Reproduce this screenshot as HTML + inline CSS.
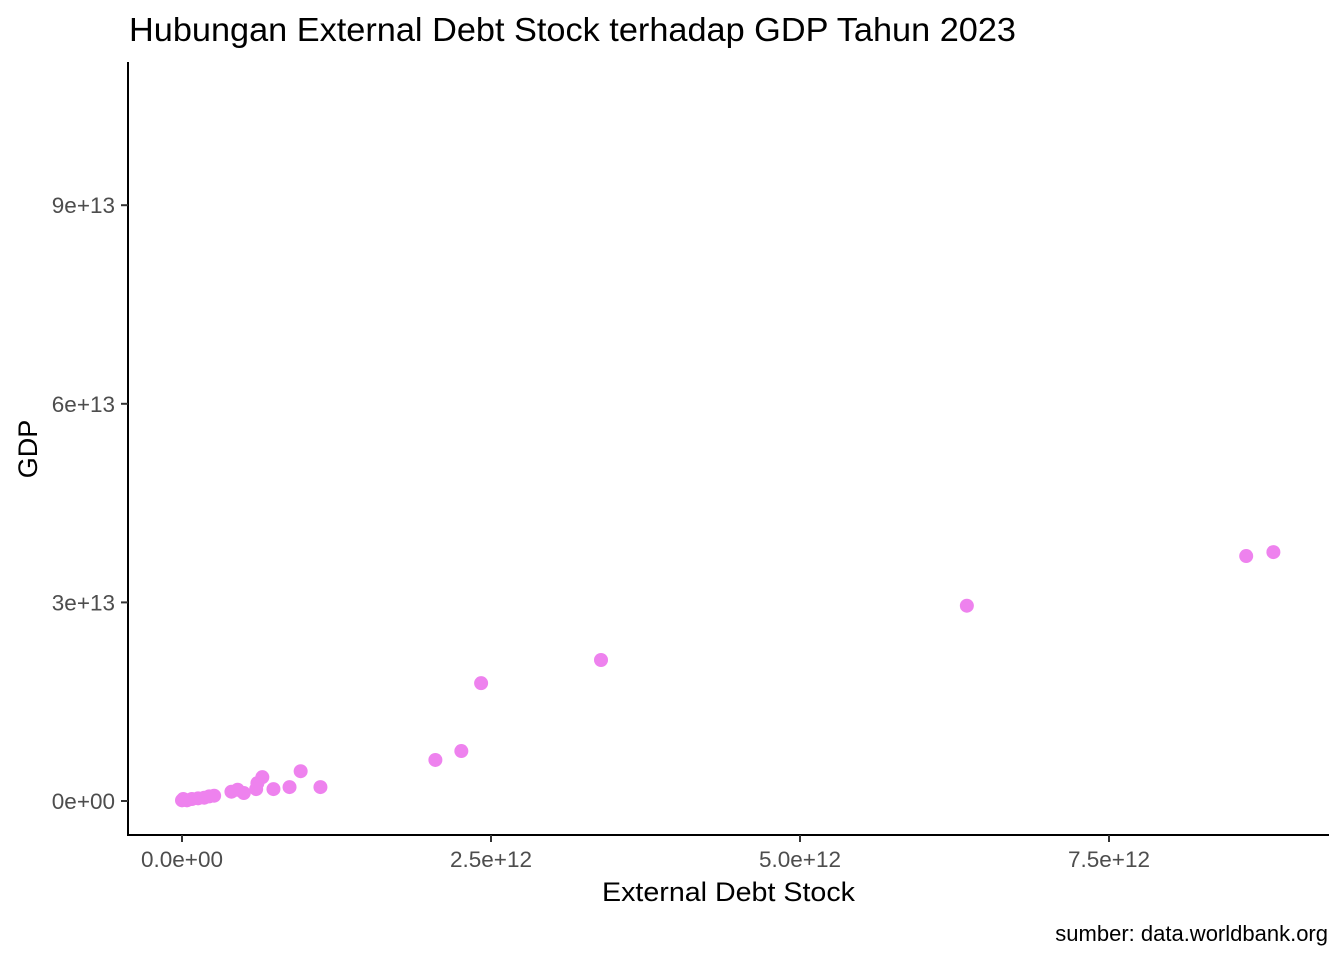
<!DOCTYPE html>
<html><head><meta charset="utf-8"><style>
body{margin:0;background:#fff;font-family:"Liberation Sans",sans-serif;}
</style></head><body>
<svg id="chart" width="1344" height="960">
<text x="129" y="41" font-size="33" textLength="887" lengthAdjust="spacingAndGlyphs" fill="#000">Hubungan External Debt Stock terhadap GDP Tahun 2023</text>
<line x1="128" y1="62" x2="128" y2="835" stroke="#000" stroke-width="2"/>
<line x1="127" y1="835" x2="1329" y2="835" stroke="#000" stroke-width="2"/>
<g id="ticks"></g>
<g id="points"></g>
<text x="602" y="901" font-size="27" textLength="253" lengthAdjust="spacingAndGlyphs" fill="#000">External Debt Stock</text>
<text transform="translate(37,449) rotate(-90)" font-size="27" text-anchor="middle" fill="#000">GDP</text>
<text x="1328" y="941" font-size="22" text-anchor="end" fill="#000">sumber: data.worldbank.org</text>
</svg>
<script>
const debt = [8.83,8.61,6.35,3.39,2.42,2.26,2.05,1.12,0.96,0.87,0.74,0.65,0.61,0.60,0.50,0.45,0.40,0.26,0.22,0.18,0.13,0.08,0.04,0.01,0.0];
const gdp = [3.76,3.70,2.95,2.13,1.78,0.755,0.62,0.21,0.45,0.21,0.18,0.36,0.27,0.18,0.12,0.17,0.14,0.08,0.07,0.05,0.04,0.03,0.01,0.03,0.01];
const xTicks = [0,2.5,5,7.5];
const xTickLabels = ["0.0e+00","2.5e+12","5.0e+12","7.5e+12"];
const yTicks = [0,3,6,9];
const yTickLabels = ["0e+00","3e+13","6e+13","9e+13"];
const NS="http://www.w3.org/2000/svg";
function xs(v){return 182+v*123.6;}
function ys(v){return 801-v*66.2;}
const tg=document.getElementById('ticks');
xTicks.forEach((t,i)=>{
 const l=document.createElementNS(NS,'line');
 l.setAttribute('x1',xs(t));l.setAttribute('x2',xs(t));l.setAttribute('y1',835);l.setAttribute('y2',842);
 l.setAttribute('stroke','#333');l.setAttribute('stroke-width','2');
 
 
 tg.appendChild(l);
 const tx=document.createElementNS(NS,'text');
 tx.setAttribute('x',xs(t));tx.setAttribute('y',867);tx.setAttribute('font-size','22.5');tx.setAttribute('fill','#4d4d4d');tx.setAttribute('text-anchor','middle');
 tx.textContent=xTickLabels[i];
 
 
 tg.appendChild(tx);
});
yTicks.forEach((t,i)=>{
 const l=document.createElementNS(NS,'line');
 l.setAttribute('x1',121);l.setAttribute('x2',128);l.setAttribute('y1',ys(t));l.setAttribute('y2',ys(t));
 l.setAttribute('stroke','#333');l.setAttribute('stroke-width','2');
 
 
 tg.appendChild(l);
 const tx=document.createElementNS(NS,'text');
 tx.setAttribute('x',115);tx.setAttribute('y',ys(t)+8);tx.setAttribute('font-size','22.5');tx.setAttribute('fill','#4d4d4d');tx.setAttribute('text-anchor','end');
 tx.textContent=yTickLabels[i];
 
 
 tg.appendChild(tx);
});
const pg=document.getElementById('points');
debt.forEach((d,i)=>{
 const c=document.createElementNS(NS,'circle');
 c.setAttribute('cx',xs(d));c.setAttribute('cy',ys(gdp[i]));c.setAttribute('r',7);c.setAttribute('fill','#ee82ee');
 
 
 pg.appendChild(c);
});
</script>
</body></html>
